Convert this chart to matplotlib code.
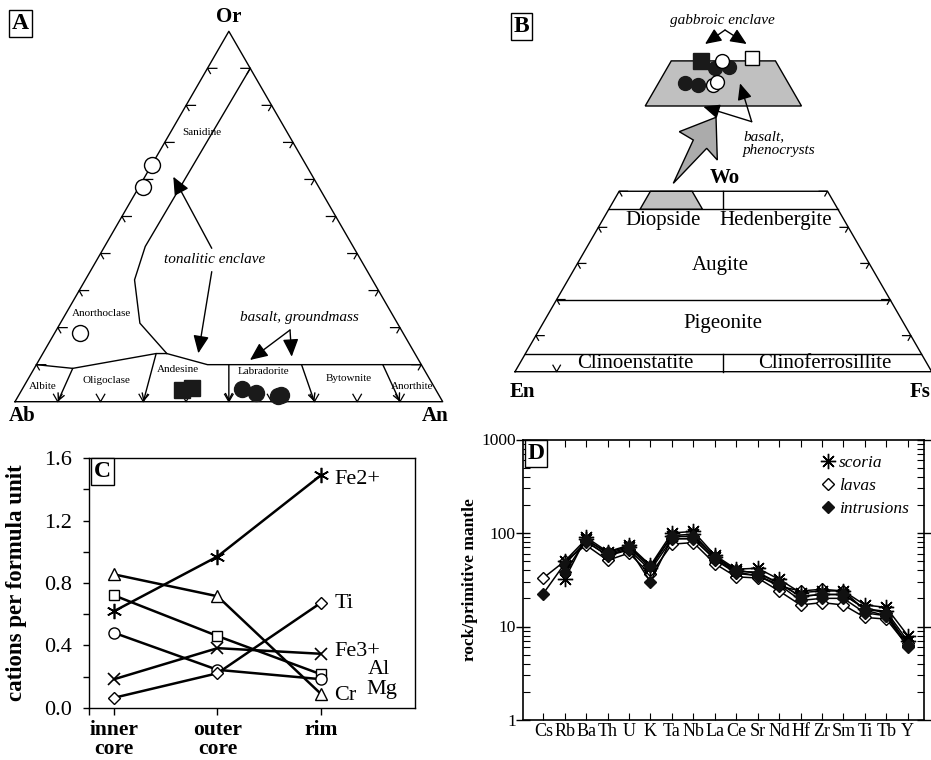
import numpy as np
import matplotlib
matplotlib.use('Agg')
import matplotlib.pyplot as plt
from matplotlib.lines import Line2D
from matplotlib.patches import Polygon

plt.rcParams['font.family'] = ['Liberation Serif', 'DejaVu Serif']

W, H = 931, 760
SQ3 = np.sqrt(3) / 2

# A: feldspar compositions, mol % An and Or (rest Ab)
tonal_circ_an = [0.0, 1.0, 6.0]
tonal_circ_or = [64.0, 58.0, 18.5]
tonal_sq_an = [37.4, 39.6]
tonal_sq_or = [3.2, 3.8]
gm_an = [51.3, 55.2, 60.6, 61.3]
gm_or = [3.4, 2.3, 1.6, 1.8]

# B: pyroxene compositions, Wo and Fs %
gab_fill_wo, gab_fill_fs = [50.0], [10.4]
gab_open_wo, gab_open_fs = [50.3], [15.1]
phen_fill_wo = [49.2, 49.3, 47.5, 47.3]
phen_fill_fs = [12.1, 13.4, 10.1, 11.4]
phen_open_wo = [50.0, 47.3, 47.7]
phen_open_fs = [12.4, 12.9, 13.0]

# C: cations per formula unit
zones = ['inner\ncore', 'outer\ncore', 'rim']
fe2 = [0.62, 0.97, 1.49]
cr = [0.855, 0.715, 0.09]
al = [0.72, 0.46, 0.215]
mg = [0.48, 0.243, 0.183]
fe3 = [0.183, 0.382, 0.346]
ti = [0.064, 0.221, 0.672]

# D: primitive mantle normalised
elements = ['Cs', 'Rb', 'Ba', 'Th', 'U', 'K', 'Ta', 'Nb', 'La', 'Ce', 'Sr',
            'Nd', 'Hf', 'Zr', 'Sm', 'Ti', 'Tb', 'Y']
nan = np.nan
scoria_1 = [nan, 32, 90, 63, 74, 45, 100, 104, 58, 41, 42, 32, 23, 24, 24, 17, 16, 8.0]
scoria_2 = [nan, 50, 86, 60, 70, 42, 94, 97, 55, 39, 38, 29, 21, 22, 22, 15.5, 14.5, 7.0]
lavas_1 = [33, 50, 74, 51, 61, 36, 76, 79, 47, 34, 33, 24, 17, 18, 17, 12.5, 12, 6.2]
lavas_2 = [nan, 46, 82, 57, 66, 40, 86, 88, 52, 37, 35, 27, 24, 25, 24, 15, 13, 6.6]
intr_1 = [22.5, 47, 80, 58, 68, 30, 88, 86, 53, 38, 35, 28, 19, 20, 20, 14, 13, 6.0]
intr_2 = [nan, 38, 84, 62, 72, 44, 92, 92, 56, 40, 37, 29, 21, 22, 22, 15.5, 14, 6.4]

fig = plt.figure(figsize=(W / 100, H / 100), dpi=100)


def px_axes(x0, y0, x1, y1):
    return fig.add_axes([x0 / W, 1 - y1 / H, (x1 - x0) / W, (y1 - y0) / H])


def fsp(an, orr):
    an = np.asarray(an, float) / 100.0
    orr = np.asarray(orr, float) / 100.0
    return an + orr / 2, orr * SQ3


def pyx(wo, fs):
    wo = np.asarray(wo, float) / 100.0
    fs = np.asarray(fs, float) / 100.0
    return fs + wo / 2, wo * SQ3


def mag(xy):
    # blow-up of the grey field above the quadrilateral
    x, y = xy
    return 0.5 + 2.5 * (np.asarray(x) - 0.375), 0.6376 + 2.5 * (np.asarray(y) - 0.3897)


def tick(ax, x, y, d1, d2, l1, l2):
    ax.plot([x + d1[0] * l1, x, x + d2[0] * l2], [y + d1[1] * l1, y, y + d2[1] * l2],
            color='k', lw=0.9, clip_on=False)


def arrow(ax, start, end, ms=24):
    ax.annotate('', xy=end, xytext=start,
                arrowprops=dict(arrowstyle='-|>,head_length=0.45,head_width=0.2', color='k',
                                lw=1, mutation_scale=ms, shrinkA=0, shrinkB=0))


def panel_letter(ax, x, y, s, trans=None):
    ax.text(x, y, s, fontsize=17, fontweight='bold', ha='center', va='center',
            transform=trans if trans is not None else ax.transData,
            bbox=dict(boxstyle='square,pad=0.12', fc='white', ec='k', lw=1), zorder=10)


# ---------------- A ----------------
ax = px_axes(0, 0, 470, 440)
ax.set_xlim(-15 / 427.7, 455 / 427.7)
ax.set_ylim(-38.3 / 427.7, 401.7 / 427.7)
ax.axis('off')
ax.plot([0, 1, 0.5, 0], [0, 0, SQ3, 0], color='k', lw=1)
for t in range(10, 100, 10):
    x, y = fsp(0, t)
    tick(ax, x, y, (1, 0), (0.5, -SQ3), 0.022, 0.014)
    x, y = fsp(100 - t, t)
    tick(ax, x, y, (-1, 0), (-0.5, -SQ3), 0.022, 0.014)
    x, y = fsp(t, 0)
    tick(ax, x, y, (-0.5, SQ3), (0.5, SQ3), 0.02, 0.02)

ax.plot(*fsp([0, 9, 26.5, 29, 40, 90], [10, 9, 13, 13, 10, 10]), color='k', lw=1)
ax.plot(*fsp([29, 18.6, 11.5, 9.5, 10], [13, 21.2, 32.9, 41.9, 90]), color='k', lw=1)
for top, bot in [((9, 9), (10, 0)), ((26.5, 13), (30, 0)), ((45, 10), (50, 0)),
                 ((62, 10), (70, 0)), ((81, 10), (90, 0))]:
    x, y = fsp([top[0], bot[0]], [top[1], bot[1]])
    ax.annotate('', xy=(x[1], y[1]), xytext=(x[0], y[0]),
                arrowprops=dict(arrowstyle='->', color='k', lw=1, mutation_scale=12,
                                shrinkA=0, shrinkB=0))

ax.plot(*fsp(tonal_circ_an, tonal_circ_or), 'o', ms=11.5, mfc='white', mec='k', mew=1)
ax.plot(*fsp(tonal_sq_an, tonal_sq_or), 's', ms=11, mfc='#1a1a1a', mec='#1a1a1a')
ax.plot(*fsp(gm_an, gm_or), 'o', ms=11.5, mfc='#1a1a1a', mec='#1a1a1a')

fkw = dict(fontsize=8, ha='center', va='center')
ax.text(0.4365, 0.63, 'Sanidine', **fkw)
ax.text(0.2027, 0.2067, 'Anorthoclase', **fkw)
ax.text(0.0648, 0.0367, 'Albite', **fkw)
ax.text(0.2144, 0.0507, 'Oligoclase', **fkw)
ax.text(0.3818, 0.0758, 'Andesine', **fkw)
ax.text(0.5805, 0.0701, 'Labradorite', **fkw)
ax.text(0.7793, 0.0531, 'Bytownite', **fkw)
ax.text(0.9275, 0.0367, 'Anorthite', **fkw)

ax.text(0.4676, 0.333, 'tonalitic enclave', fontsize=11, style='italic', ha='center', va='center')
arrow(ax, (0.46, 0.3587), (0.3701, 0.526))
arrow(ax, (0.46, 0.304), (0.4286, 0.1132))
ax.text(0.664, 0.1973, 'basalt, groundmass', fontsize=11, style='italic', ha='center', va='center')
arrow(ax, (0.643, 0.1676), (0.5494, 0.0975))
arrow(ax, (0.643, 0.1676), (0.647, 0.1052))

bkw = dict(fontsize=15, fontweight='bold', ha='center', va='center')
ax.text(0.5004, 0.900, 'Or', **bkw)
ax.text(0.0157, -0.0334, 'Ab', **bkw)
ax.text(0.982, -0.0334, 'An', **bkw)
panel_letter(ax, 0.0133, 0.8847, 'A')

# ---------------- B ----------------
ax = px_axes(470, 0, 931, 440)
ax.set_xlim(-45 / 416.7, 416 / 416.7)
ax.set_ylim(-68.3 / 416.7, 371.7 / 416.7)
ax.axis('off')
lkw = dict(color='k', lw=1, clip_on=False)
ax.plot(*pyx([0, 0, 50, 50, 0], [0, 100, 50, 0, 0]), **lkw)
for wo in [45, 20, 5]:
    ax.plot(*pyx([wo, wo], [0, 100 - wo]), **lkw)
ax.plot(*pyx([45, 50], [27.5, 25]), **lkw)
ax.plot(*pyx([0, 5], [50, 47.5]), **lkw)
for w in [10, 20, 30, 40, 50]:
    x, y = pyx(w, 0)
    tick(ax, x, y, (1, 0), (0.5, -SQ3), 0.02, 0.013)
    x, y = pyx(w, 100 - w)
    tick(ax, x, y, (-1, 0), (-0.5, -SQ3), 0.02, 0.013)
x, y = pyx(0, 10)
tick(ax, x, y, (-0.5, SQ3), (0.5, SQ3), 0.018, 0.018)

field_wo = [45, 50, 50, 45]
field_fs = [7.5, 7.5, 17.5, 22.5]
fx, fy = pyx(field_wo, field_fs)
ax.add_patch(Polygon(np.column_stack([fx, fy]), closed=True, fc='#c0c0c0', ec='k', lw=1))
bx, by = mag((fx, fy))
ax.add_patch(Polygon(np.column_stack([bx, by]), closed=True, fc='#c0c0c0', ec='k', lw=1))

big = [(0.3799, 0.4521), (0.4279, 0.5560), (0.3943, 0.5760), (0.4824, 0.6105),
       (0.4855, 0.5080), (0.4600, 0.5361)]
ax.add_patch(Polygon(big, closed=True, fc='#ababab', ec='k', lw=1))

ax.plot(*mag(pyx(phen_fill_wo, phen_fill_fs)), 'o', ms=10, mfc='#1a1a1a', mec='#1a1a1a')
ax.plot(*mag(pyx(phen_open_wo, phen_open_fs)), 'o', ms=10, mfc='white', mec='k', mew=1)
ax.plot(*mag(pyx(gab_fill_wo, gab_fill_fs)), 's', ms=12, mfc='#1a1a1a', mec='#1a1a1a')
ax.plot(*mag(pyx(gab_open_wo, gab_open_fs)), 's', ms=10, mfc='white', mec='k', mew=1)

ax.text(0.4984, 0.8424, 'gabbroic enclave', fontsize=11, style='italic', ha='center', va='center')
arrow(ax, (0.504, 0.82), (0.456, 0.7864), ms=22)
arrow(ax, (0.504, 0.82), (0.556, 0.7864), ms=22)
ax.text(0.548, 0.548, 'basalt,\nphenocrysts', fontsize=11, style='italic', ha='left',
        va='center', linespacing=1.1)
arrow(ax, (0.568, 0.600), (0.54, 0.692), ms=22)
arrow(ax, (0.568, 0.600), (0.452, 0.636), ms=22)

pkw = dict(fontsize=15, ha='center', va='center')
ax.text(0.356, 0.3624, 'Diopside', **pkw)
ax.text(0.6263, 0.3624, 'Hedenbergite', **pkw)
ax.text(0.4936, 0.256, 'Augite', **pkw)
ax.text(0.50, 0.116, 'Pigeonite', **pkw)
ax.text(0.288, 0.0185, 'Clinoenstatite', **pkw)
ax.text(0.744, 0.0185, 'Clinoferrosillite', **pkw)
ax.text(0.504, 0.464, 'Wo', **bkw)
ax.text(0.0175, -0.048, 'En', **bkw)
ax.text(0.972, -0.048, 'Fs', **bkw)
panel_letter(ax, 0.016, 0.828, 'B')

# ---------------- C ----------------
ax = px_axes(89.3, 458.3, 415, 707.7)
pos = np.arange(len(zones))
lw = 1.8
ax.plot(pos, fe2, '-', color='k', lw=lw, marker=(6, 2, 0), ms=11, mew=1.2)
ax.plot(pos, cr, '-', color='k', lw=lw, marker='^', ms=8.5, mfc='white', mew=1)
ax.plot(pos, al, '-', color='k', lw=lw, marker='s', ms=7.5, mfc='white', mew=1)
ax.plot(pos, mg, '-', color='k', lw=lw, marker='o', ms=8, mfc='white', mew=1)
ax.plot(pos, fe3, '-', color='k', lw=lw, marker='x', ms=8.5, mew=1.2)
ax.plot(pos, ti, '-', color='k', lw=lw, marker='D', ms=6, mfc='white', mew=1)
ax.set_xlim(-0.242, 2.914)
ax.set_ylim(0, 1.6)
ckw = dict(fontsize=16, ha='left', va='center')
ax.text(2.132, 1.465, 'Fe2+', **ckw)
ax.text(2.132, 0.67, 'Ti', **ckw)
ax.text(2.132, 0.359, 'Fe3+', **ckw)
ax.text(2.455, 0.242, 'Al', **ckw)
ax.text(2.446, 0.1136, 'Mg', **ckw)
ax.text(2.132, 0.081, 'Cr', **ckw)
ax.set_yticks([0, 0.4, 0.8, 1.2, 1.6])
ax.set_yticklabels(['0.0', '0.4', '0.8', '1.2', '1.6'])
ax.set_yticks([0.2, 0.6, 1.0, 1.4], minor=True)
ax.set_xticks(pos)
ax.set_xticklabels(zones, fontweight='bold', fontsize=15.5, linespacing=0.95)
ax.set_xticks([-0.242], minor=True)
ax.tick_params(axis='y', which='both', direction='out', length=4.5, width=1, labelsize=16, pad=8)
ax.tick_params(axis='x', which='both', direction='out', length=5, width=1, pad=4)
for s in ax.spines.values():
    s.set_linewidth(1)
ax.set_ylabel('cations per formula unit', fontsize=16.5, fontweight='bold')
ax.yaxis.set_label_coords(-0.192, 0.5)
panel_letter(ax, 0.04, 0.946, 'C', trans=ax.transAxes)

# ---------------- D ----------------
ax = px_axes(522.7, 439.5, 924, 720)
idx = np.arange(len(elements))
dkw = dict(color='k', lw=1.1)
ax.plot(idx, lavas_1, marker='D', ms=6.5, mfc='white', mec='k', **dkw)
ax.plot(idx, lavas_2, marker='D', ms=6.5, mfc='white', mec='k', **dkw)
ax.plot(idx, scoria_1, marker=(8, 2, 0), ms=11, mew=1, **dkw)
ax.plot(idx, scoria_2, marker=(8, 2, 0), ms=11, mew=1, **dkw)
ax.plot(idx, intr_1, marker='D', ms=6.5, mfc='#111111', mec='#111111', **dkw)
ax.plot(idx, intr_2, marker='D', ms=6.5, mfc='#111111', mec='#111111', **dkw)
ax.set_yscale('log')
ax.set_ylim(1, 1000)
ax.set_xlim(-0.96, 17.76)
ax.set_xticks(idx)
ax.set_xticklabels(elements, fontsize=13)
ax.set_yticks([1, 10, 100, 1000])
ax.set_yticklabels(['1', '10', '100', '1000'], fontsize=12.5)
ax.tick_params(axis='y', which='major', direction='inout', length=10, width=1, right=True, pad=0)
ax.tick_params(axis='y', which='minor', direction='in', length=5, width=0.8, right=True)
ax.tick_params(axis='x', direction='in', length=5, width=0.8, top=True, pad=2)
for s in ax.spines.values():
    s.set_linewidth(1.2)
ax.set_ylabel('rock/primitive mantle', fontsize=12.5, fontweight='bold')
ax.yaxis.set_label_coords(-0.1106, 0.5)
handles = [Line2D([], [], ls='none', marker=(8, 2, 0), ms=11, mew=1, color='k'),
           Line2D([], [], ls='none', marker='D', ms=6.5, mfc='white', mec='k'),
           Line2D([], [], ls='none', marker='D', ms=6.5, mfc='#111111', mec='#111111')]
leg = ax.legend(handles, ['scoria', 'lavas', 'intrusions'], loc='upper left',
                bbox_to_anchor=(0.744, 0.945), frameon=False, borderpad=0, borderaxespad=0,
                handlelength=0.8, handletextpad=0.2, labelspacing=0.4,
                prop=dict(family='Liberation Serif', style='italic', size=12.5))
panel_letter(ax, (536 - 522.7) / 401.3, (720 - 453.3) / 280.5, 'D', trans=ax.transAxes)

fig.savefig('out.png', dpi=100)
